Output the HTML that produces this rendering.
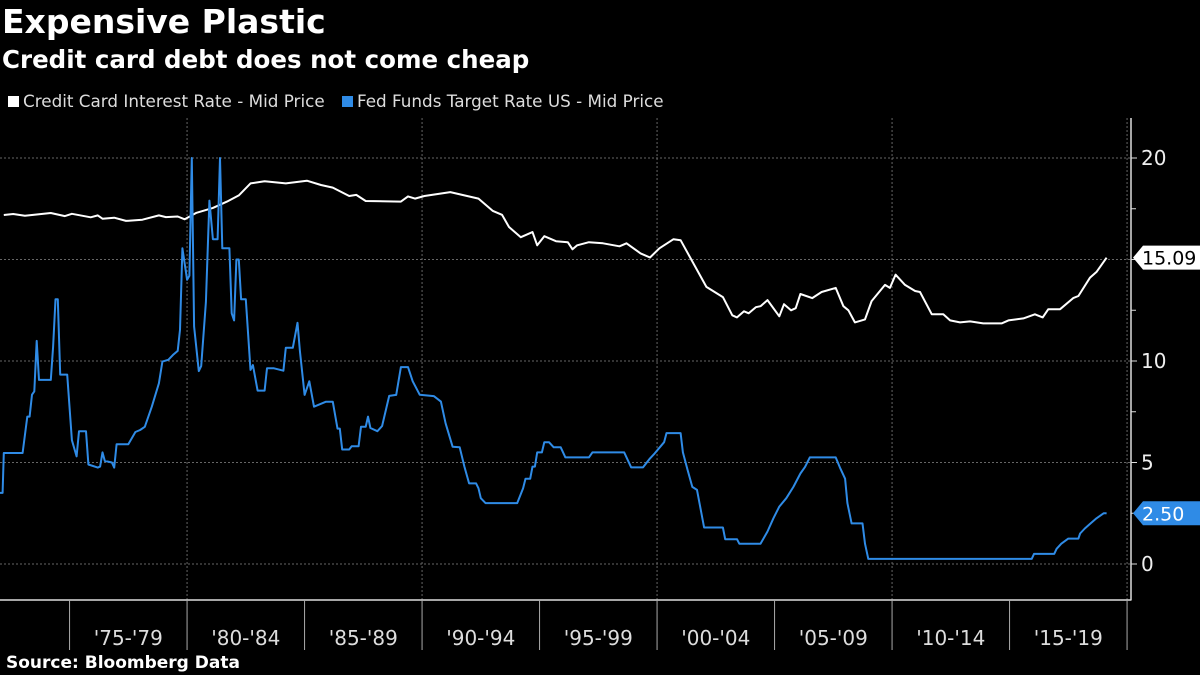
<!DOCTYPE html>
<html><head><meta charset="utf-8">
<style>
html,body{margin:0;padding:0;background:#000;}
body{width:1200px;height:675px;overflow:hidden;font-family:"DejaVu Sans","Liberation Sans",sans-serif;color:#fff;position:relative;}
.t{position:absolute;white-space:nowrap;}
</style></head>
<body>
<div class="t" style="left:2px;top:2px;font-size:33px;font-weight:bold;">Expensive Plastic</div>
<div class="t" style="left:2px;top:45px;font-size:24.5px;font-weight:bold;">Credit card debt does not come cheap</div>
<div class="t" style="left:8px;top:91px;font-size:16.8px;color:#ddd;"><span style="display:inline-block;width:11px;height:11px;background:#fff;margin-right:4px;"></span>Credit Card Interest Rate - Mid Price</div>
<div class="t" style="left:342px;top:91px;font-size:16.8px;color:#ddd;"><span style="display:inline-block;width:11px;height:11px;background:#2f8be6;margin-right:4px;"></span>Fed Funds Target Rate US - Mid Price</div>
<div class="t" style="left:6px;top:653px;font-size:17px;font-weight:bold;">Source: Bloomberg Data</div>
<svg id="chart" width="1200" height="675" style="position:absolute;left:0;top:0;" xmlns="http://www.w3.org/2000/svg"></svg>
<script>
const ccYears=[1972.2,1972.6,1973.1,1974.2,1974.8,1975.1,1975.9,1976.2,1976.4,1976.9,1977.4,1978.1,1978.8,1979.1,1979.6,1979.9,1980.4,1981.1,1981.7,1982.2,1982.7,1983.3,1984.2,1985.1,1985.7,1986.2,1986.9,1987.2,1987.6,1989.1,1989.4,1989.7,1990.1,1991.2,1992.4,1993.0,1993.4,1993.7,1994.2,1994.7,1994.9,1995.2,1995.7,1996.2,1996.4,1996.6,1997.1,1997.7,1998.4,1998.7,1999.3,1999.7,2000.1,2000.7,2001.0,2002.1,2002.8,2003.2,2003.4,2003.7,2003.9,2004.2,2004.4,2004.7,2005.2,2005.4,2005.7,2005.9,2006.1,2006.6,2007.0,2007.6,2007.93,2008.14,2008.42,2008.85,2009.13,2009.7,2009.91,2010.15,2010.55,2010.98,2011.19,2011.69,2012.18,2012.47,2012.89,2013.32,2013.88,2014.66,2014.95,2015.59,2016.08,2016.41,2016.65,2017.15,2017.71,2017.93,2018.42,2018.71,2019.13];
const ccValues=[17.19,17.24,17.16,17.29,17.14,17.25,17.08,17.17,17.01,17.06,16.9,16.96,17.17,17.09,17.12,16.98,17.3,17.54,17.85,18.16,18.75,18.85,18.75,18.88,18.67,18.54,18.13,18.18,17.88,17.85,18.11,18.0,18.13,18.32,18.0,17.4,17.2,16.6,16.1,16.35,15.7,16.15,15.9,15.85,15.5,15.7,15.85,15.8,15.65,15.8,15.3,15.1,15.55,16.0,15.95,13.65,13.15,12.25,12.15,12.45,12.35,12.65,12.7,13.0,12.2,12.8,12.5,12.6,13.3,13.1,13.4,13.6,12.7,12.5,11.9,12.05,12.95,13.75,13.6,14.25,13.75,13.45,13.4,12.3,12.3,12.0,11.9,11.95,11.85,11.85,12.0,12.1,12.3,12.15,12.55,12.55,13.1,13.2,14.1,14.4,15.09];
const ffYears=[1972.04,1972.15,1972.2,1973.0,1973.2,1973.3,1973.4,1973.5,1973.6,1973.7,1974.2,1974.3,1974.4,1974.5,1974.6,1974.9,1975.1,1975.3,1975.4,1975.7,1975.8,1976.2,1976.3,1976.4,1976.5,1976.8,1976.9,1977.0,1977.5,1977.8,1978.0,1978.2,1978.5,1978.8,1978.95,1979.2,1979.4,1979.6,1979.7,1979.8,1980.0,1980.1,1980.2,1980.3,1980.5,1980.6,1980.8,1980.95,1981.1,1981.3,1981.4,1981.5,1981.8,1981.9,1982.0,1982.1,1982.2,1982.3,1982.5,1982.7,1982.8,1983.0,1983.3,1983.4,1983.7,1984.1,1984.2,1984.5,1984.7,1984.8,1985.0,1985.2,1985.4,1985.9,1986.2,1986.4,1986.5,1986.6,1986.9,1987.0,1987.3,1987.4,1987.6,1987.7,1987.8,1988.1,1988.3,1988.6,1988.9,1989.1,1989.4,1989.6,1989.9,1990.5,1990.8,1991.0,1991.3,1991.6,1991.8,1992.0,1992.3,1992.4,1992.5,1992.7,1994.05,1994.3,1994.4,1994.6,1994.7,1994.8,1994.9,1995.1,1995.2,1995.4,1995.6,1995.9,1996.1,1997.1,1997.25,1998.6,1998.9,1999.4,1999.7,1999.9,2000.3,2000.4,2001.0,2001.1,2001.3,2001.5,2001.7,2002.0,2002.8,2002.9,2003.4,2003.5,2004.4,2004.7,2004.95,2005.2,2005.5,2005.8,2006.1,2006.3,2006.5,2007.6,2007.8,2008.0,2008.1,2008.28,2008.74,2008.85,2008.99,2015.94,2016.04,2016.9,2017.0,2017.2,2017.5,2017.93,2018.0,2018.2,2018.45,2018.7,2019.0,2019.13];
const ffValues=[3.5,3.5,5.47,5.47,7.26,7.26,8.34,8.5,10.99,9.07,9.07,10.7,13.04,13.04,9.33,9.33,6.1,5.3,6.54,6.54,4.9,4.75,4.8,5.5,5.08,5.0,4.75,5.9,5.9,6.5,6.6,6.76,7.75,8.9,9.97,10.06,10.3,10.5,11.53,15.55,14.0,14.2,20,11.7,9.5,9.75,12.9,17.9,16.0,16.0,20,15.55,15.55,12.35,12.0,15.0,15.0,13.04,13.04,9.56,9.8,8.54,8.54,9.64,9.64,9.52,10.65,10.65,11.88,10.5,8.33,9.0,7.75,7.99,7.99,6.67,6.67,5.64,5.64,5.8,5.8,6.76,6.76,7.26,6.7,6.54,6.8,8.28,8.33,9.7,9.7,9.0,8.34,8.27,8.0,6.93,5.78,5.75,4.8,3.97,3.97,3.73,3.24,3.0,3.0,3.73,4.2,4.2,4.8,4.8,5.5,5.5,6.0,6.0,5.75,5.75,5.25,5.25,5.5,5.5,4.76,4.76,5.2,5.45,6.0,6.45,6.45,5.5,4.63,3.8,3.65,1.8,1.8,1.22,1.22,1.0,1.0,1.6,2.25,2.83,3.24,3.8,4.46,4.79,5.25,5.25,4.7,4.2,3.0,2.0,2.0,1.0,0.25,0.25,0.5,0.5,0.75,1.0,1.25,1.25,1.5,1.75,2.0,2.25,2.5,2.5];
const yTickValues=[20,10,5,0];
const yMinorTicks=[17.5,15,12.5,7.5,2.5];
const yGridValues=[20,15,10,5,0];
const xTickYears=[1975,1980,1985,1990,1995,2000,2005,2010,2015,2020];
const xGridYears=[1980,1990,2000,2010,2020];
const periodLabels=["'75-'79","'80-'84","'85-'89","'90-'94","'95-'99","'00-'04","'05-'09","'10-'14","'15-'19"];
const periodStarts=[1975,1980,1985,1990,1995,2000,2005,2010,2015];
const lastCC=15.09, lastFF=2.50;

const svg=document.getElementById('chart');
const NS='http://www.w3.org/2000/svg';
const FONT='DejaVu Sans, Liberation Sans, sans-serif';
const X0=1972.04, PX=23.5, Y0=564, PY=20.3, AXR=1131, AXB=600, TOP=118;
const xs=y=>(y-X0)*PX;
const ys=v=>Y0-v*PY;
function mk(tag,attrs,parent){const e=document.createElementNS(NS,tag);for(const k in attrs)e.setAttribute(k,attrs[k]);(parent||svg).appendChild(e);return e;}

const grid=mk('g',{});


yGridValues.forEach(v=>{const l=mk('line',{x1:0,x2:AXR,y1:ys(v),y2:ys(v),stroke:'#666','stroke-width':1,'stroke-dasharray':'2,2'},grid);

});
xGridYears.forEach(yr=>{const l=mk('line',{x1:xs(yr),x2:xs(yr),y1:TOP,y2:AXB,stroke:'#666','stroke-width':1,'stroke-dasharray':'2,2'},grid);

});

const ax=mk('g',{});


mk('line',{x1:0,x2:AXR+0.5,y1:AXB,y2:AXB,stroke:'#ddd','stroke-width':1.5},ax);
mk('line',{x1:AXR,x2:AXR,y1:TOP,y2:AXB,stroke:'#ddd','stroke-width':1.5},ax);
xTickYears.forEach(yr=>{const l=mk('line',{x1:xs(yr),x2:xs(yr),y1:AXB,y2:AXB+50,stroke:'#aaa','stroke-width':1},ax);

});
periodLabels.forEach((lab,i)=>{const t=mk('text',{x:xs(periodStarts[i]+2.5),y:645,fill:'#ddd','font-size':20,'text-anchor':'middle','font-family':FONT},ax);t.textContent=lab;

});
yTickValues.forEach(v=>{mk('line',{x1:AXR,x2:AXR+6,y1:ys(v),y2:ys(v),stroke:'#ddd'},ax);
const t=mk('text',{x:AXR+10,y:ys(v)+7,fill:'#eee','font-size':20,'font-family':FONT},ax);t.textContent=v;

});
yMinorTicks.forEach(v=>{mk('line',{x1:AXR,x2:AXR+5,y1:ys(v),y2:ys(v),stroke:'#ddd'},ax);});

function line(years,vals,color,name){const d=years.map((y,i)=>(i?'L':'M')+xs(y).toFixed(1)+','+ys(vals[i]).toFixed(1)).join('');
const p=mk('path',{d:d,fill:'none',stroke:color,'stroke-width':2,'stroke-linejoin':'round'});

}
line(ccYears,ccValues,'#ffffff','credit-card-rate-line');
line(ffYears,ffValues,'#2f8be6','fed-funds-rate-line');

function tag(v,bg,fg,name){const y=ys(v);const g=mk('g',{});


mk('path',{d:`M${AXR+2},${y} L${AXR+12},${y-12} L1200,${y-12} L1200,${y+12} L${AXR+12},${y+12} Z`,fill:bg},g);
const t=mk('text',{x:AXR+11,y:y+7,fill:fg,'font-size':19,'font-family':FONT},g);t.textContent=v.toFixed(2);}
tag(lastCC,'#ffffff','#000','last-value-tag-credit-card');
tag(lastFF,'#2f8be6','#fff','last-value-tag-fed-funds');
</script>
</body></html>
